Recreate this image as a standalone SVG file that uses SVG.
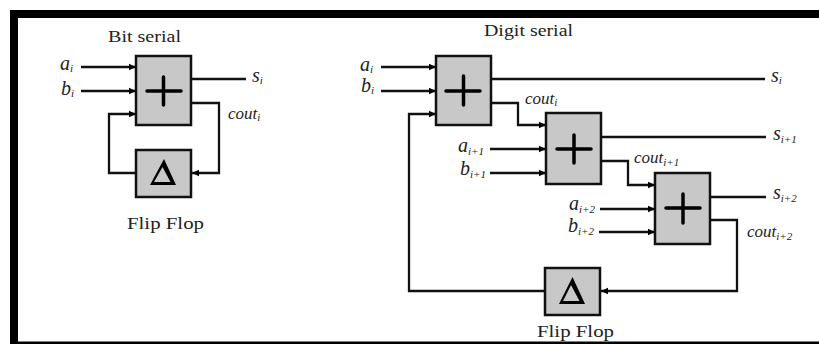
<svg xmlns="http://www.w3.org/2000/svg" width="819" height="344" viewBox="0 0 819 344">
<defs>
<marker id="a" markerUnits="userSpaceOnUse" markerWidth="8" markerHeight="8" refX="7" refY="4" orient="auto"><path d="M0 0.800L7 4L0 7.200z" fill="#000"/></marker>
</defs>
<style>
.b{fill:#c8c8c8;stroke:#111;stroke-width:2.500}
.c{fill:none;stroke:#111;stroke-width:2.300}
.p{fill:none;stroke:#000;stroke-width:3.500;stroke-linecap:round}
.d{fill:#000;fill-rule:evenodd}
text{font-family:"Liberation Serif",serif;fill:#222}
.t{font-size:17px}
.v{font-size:20px;font-style:italic}
.s{font-size:11px}
.u{font-size:17px;font-style:italic}
</style>
<rect width="819" height="344" fill="#fff"/>
<g id="frame"><rect x="10" y="10" width="809" height="8" fill="#000"/><rect x="10" y="10" width="8" height="334" fill="#000"/><rect x="10" y="341.500" width="809" height="2.500" fill="#000"/></g>
<g id="connectors">
<path class="c" marker-end="url(#a)" d="M81 67H136"/>
<path class="c" marker-end="url(#a)" d="M81 91H136"/>
<path class="c" d="M191 79H246"/>
<path class="c" marker-end="url(#a)" d="M191 103H219V173H192"/>
<path class="c" marker-end="url(#a)" d="M136 173H109V114H136"/>
<path class="c" marker-end="url(#a)" d="M381 67H436"/>
<path class="c" marker-end="url(#a)" d="M381 91H436"/>
<path class="c" d="M491 79H765"/>
<path class="c" marker-end="url(#a)" d="M491 103H518V125H546"/>
<path class="c" marker-end="url(#a)" d="M490 149H546"/>
<path class="c" marker-end="url(#a)" d="M490 173H546"/>
<path class="c" d="M601 137H766"/>
<path class="c" marker-end="url(#a)" d="M601 161H628V185H655"/>
<path class="c" marker-end="url(#a)" d="M600 209H655"/>
<path class="c" marker-end="url(#a)" d="M599 232H655"/>
<path class="c" d="M710 197H766"/>
<path class="c" marker-end="url(#a)" d="M710 220H737V291H601"/>
<path class="c" marker-end="url(#a)" d="M545 291H409V114H436"/>
</g>
<g id="bit-adder"><rect class="b" x="136" y="56" width="55" height="69"/><path class="p" d="M147 91H181M163.500 77V105"/></g>
<g id="bit-ff"><rect class="b" x="136" y="150" width="55" height="47"/><path class="d" d="M164 159L176 185H150zM162.500 167L154 182H170.500z"/></g>
<g id="digit-adder-0"><rect class="b" x="436" y="56" width="55" height="69"/><path class="p" d="M446 91H480M463.500 76V105"/></g>
<g id="digit-adder-1"><rect class="b" x="546" y="113" width="55" height="71"/><path class="p" d="M557 149H591M574 135V163"/></g>
<g id="digit-adder-2"><rect class="b" x="655" y="173" width="55" height="71"/><path class="p" d="M666 208H700M683 194V223"/></g>
<g id="digit-ff"><rect class="b" x="545" y="268" width="55" height="47"/><path class="d" d="M572.500 277L585 304H559zM571 285L563 301H579.500z"/></g>
<g id="labels">
<text class="t" x="108" y="42" textLength="73" lengthAdjust="spacingAndGlyphs">Bit serial</text>
<text class="t" x="127" y="229" textLength="77" lengthAdjust="spacingAndGlyphs">Flip Flop</text>
<text class="t" x="484" y="36" textLength="89" lengthAdjust="spacingAndGlyphs">Digit serial</text>
<text class="t" x="537" y="337" textLength="77" lengthAdjust="spacingAndGlyphs">Flip Flop</text>
<text class="v" x="60" y="70">a<tspan class="s" dy="2">i</tspan></text>
<text class="v" x="61" y="95">b<tspan class="s" dy="2">i</tspan></text>
<text class="v" x="252" y="82">s<tspan class="s" dy="2">i</tspan></text>
<text class="u" x="228" y="119">cout<tspan class="s" dy="2">i</tspan></text>
<text class="v" x="360" y="71">a<tspan class="s" dy="2">i</tspan></text>
<text class="v" x="361" y="92">b<tspan class="s" dy="2">i</tspan></text>
<text class="v" x="771" y="82">s<tspan class="s" dy="2">i</tspan></text>
<text class="u" x="525" y="104">cout<tspan class="s" dy="2">i</tspan></text>
<text class="v" x="458" y="152">a<tspan class="s" dy="3">i+1</tspan></text>
<text class="v" x="460" y="175">b<tspan class="s" dy="3">i+1</tspan></text>
<text class="v" x="773" y="140">s<tspan class="s" dy="3">i+1</tspan></text>
<text class="u" x="634" y="163">cout<tspan class="s" dy="3">i+1</tspan></text>
<text class="v" x="569" y="210">a<tspan class="s" dy="3">i+2</tspan></text>
<text class="v" x="568" y="232">b<tspan class="s" dy="3">i+2</tspan></text>
<text class="v" x="773" y="199">s<tspan class="s" dy="3">i+2</tspan></text>
<text class="u" x="747" y="237">cout<tspan class="s" dy="3">i+2</tspan></text>
</g>
</svg>
